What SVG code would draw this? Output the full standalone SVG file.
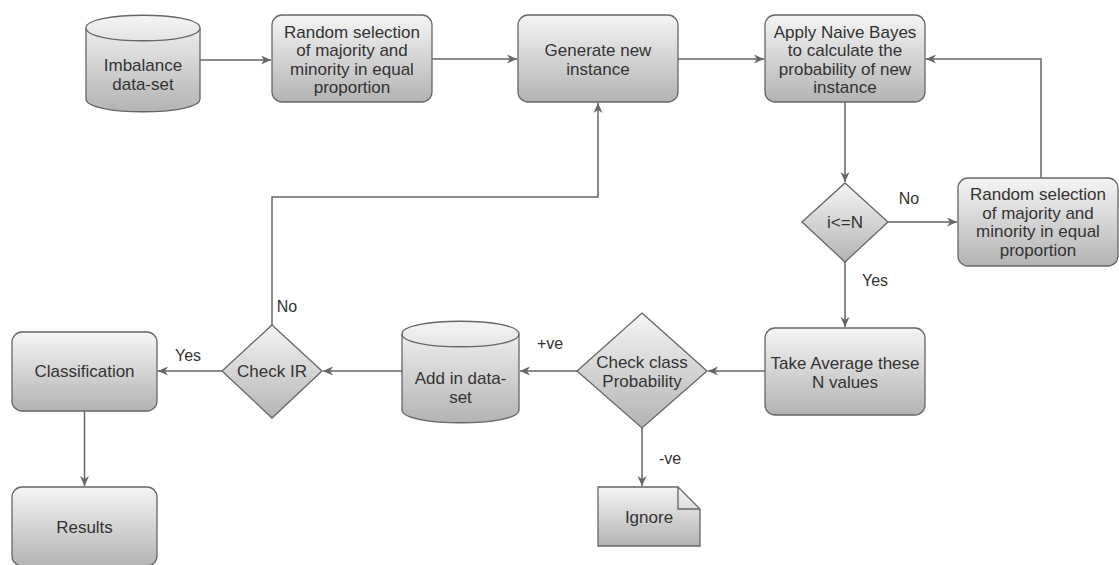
<svg xmlns="http://www.w3.org/2000/svg" width="1119" height="565" viewBox="0 0 1119 565">
<defs>
<linearGradient id="g" x1="0" y1="0" x2="0" y2="1">
<stop offset="0" stop-color="#f5f5f5"/>
<stop offset="1" stop-color="#b3b3b3"/>
</linearGradient>
<marker id="arr" markerUnits="userSpaceOnUse" markerWidth="12" markerHeight="10" refX="10" refY="4.5" orient="auto">
<path d="M0,0 L10,4.5 L0,9 L3,4.5 Z" fill="#666666"/>
</marker>
<style>
.s{fill:url(#g);stroke:#666666;stroke-width:1.3}
.t{font-family:"Liberation Sans",Arial,sans-serif;font-size:17px;fill:#333333;text-anchor:middle}
.l{font-family:"Liberation Sans",Arial,sans-serif;font-size:16px;fill:#333333;text-anchor:middle}
.c{fill:none;stroke:#666666;stroke-width:1.5;marker-end:url(#arr)}
</style>
</defs>
<rect width="1119" height="565" fill="#ffffff"/>

<g id="connectors">
<path class="c" d="M200,60 L271,60"/>
<path class="c" d="M432,59 L517,59"/>
<path class="c" d="M678,59 L764,59"/>
<path class="c" d="M845,102 L845,182"/>
<path class="c" d="M888,222 L957,222"/>
<path class="c" d="M1041,178 L1041,59 L926,59"/>
<path class="c" d="M845,262 L845,327"/>
<path class="c" d="M765,371 L708,371"/>
<path class="c" d="M577,371 L520,371"/>
<path class="c" d="M402,371 L323,371"/>
<path class="c" d="M222,371 L158,371"/>
<path class="c" d="M272,325 L272,197 L598,197 L598,103"/>
<path class="c" d="M84.5,411 L84.5,486"/>
<path class="c" d="M642,428 L642,486"/>
<text class="l" x="909" y="204">No</text>
<text class="l" x="875" y="286">Yes</text>
<text class="l" x="550" y="349">+ve</text>
<text class="l" x="670" y="464">-ve</text>
<text class="l" x="188" y="361">Yes</text>
<text class="l" x="287" y="312">No</text>
</g>

<g id="imbalance">
<path class="s" d="M86,28 C86,11 200,11 200,28 L200,99 C200,116 86,116 86,99 Z"/>
<path d="M86,28 C86,45 200,45 200,28" fill="none" stroke="#666666" stroke-width="1.3"/>
<text class="t" x="143" y="71">Imbalance</text>
<text class="t" x="143" y="89.5">data-set</text>
</g>

<g id="random1">
<rect class="s" x="272" y="15" width="160" height="87" rx="10"/>
<text class="t" x="352" y="37.5">Random selection</text>
<text class="t" x="352" y="56">of majority and</text>
<text class="t" x="352" y="74.5">minority in equal</text>
<text class="t" x="352" y="93">proportion</text>
</g>

<g id="generate">
<rect class="s" x="518" y="15" width="160" height="87" rx="10"/>
<text class="t" x="598" y="56">Generate new</text>
<text class="t" x="598" y="74.5">instance</text>
</g>

<g id="naive">
<rect class="s" x="765" y="15" width="160" height="87" rx="10"/>
<text class="t" x="845" y="37.5">Apply Naive Bayes</text>
<text class="t" x="845" y="56">to calculate the</text>
<text class="t" x="845" y="74.5">probability of new</text>
<text class="t" x="845" y="93">instance</text>
</g>

<g id="check-n">
<path class="s" d="M845,183 L888,222 L845,262 L802,222 Z"/>
<text class="t" x="845" y="228">i&lt;=N</text>
</g>

<g id="random2">
<rect class="s" x="958" y="178" width="160" height="88" rx="10"/>
<text class="t" x="1038" y="200">Random selection</text>
<text class="t" x="1038" y="218.5">of majority and</text>
<text class="t" x="1038" y="237">minority in equal</text>
<text class="t" x="1038" y="255.5">proportion</text>
</g>

<g id="average">
<rect class="s" x="765" y="328" width="160" height="87" rx="10"/>
<text class="t" x="845" y="369">Take Average these</text>
<text class="t" x="845" y="387.5">N values</text>
</g>

<g id="check-class">
<path class="s" d="M642,313 L707,371 L642,428 L577,371 Z"/>
<text class="t" x="642" y="368">Check class</text>
<text class="t" x="642" y="387">Probability</text>
</g>

<g id="add-dataset">
<path class="s" d="M402,334 C402,317 519,317 519,334 L519,410 C519,427 402,427 402,410 Z"/>
<path d="M402,334 C402,351 519,351 519,334" fill="none" stroke="#666666" stroke-width="1.3"/>
<text class="t" x="460.5" y="384">Add in data-</text>
<text class="t" x="460.5" y="403">set</text>
</g>

<g id="check-ir">
<path class="s" d="M272,325 L322,371 L272,418 L222,371 Z"/>
<text class="t" x="272" y="377">Check IR</text>
</g>

<g id="classification">
<rect class="s" x="12" y="332" width="145" height="79" rx="10"/>
<text class="t" x="84.5" y="377">Classification</text>
</g>

<g id="results">
<rect class="s" x="12" y="487" width="145" height="79" rx="10"/>
<text class="t" x="84.5" y="533">Results</text>
</g>

<g id="ignore">
<path class="s" d="M598,487 L678,487 L700,509 L700,546 L598,546 Z"/>
<path d="M678,487 L678,509 L700,509" fill="none" stroke="#666666" stroke-width="1.3"/>
<text class="t" x="649" y="523">Ignore</text>
</g>
</svg>
